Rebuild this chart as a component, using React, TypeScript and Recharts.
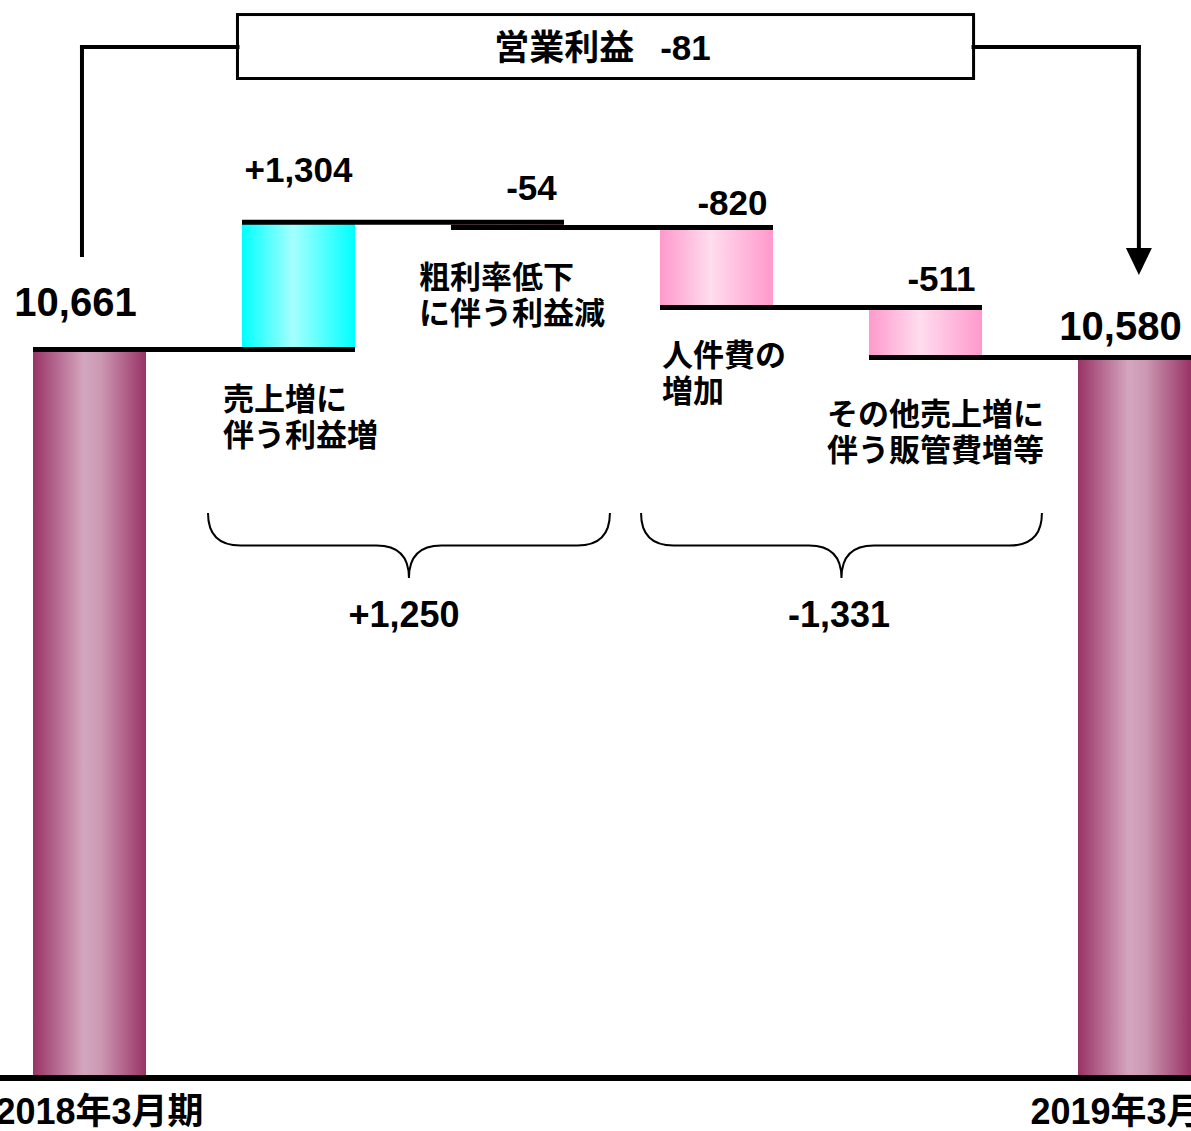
import {
  BarChart,
  Bar,
  XAxis,
  YAxis,
  Cell,
  LabelList,
  ReferenceLine,
  ReferenceArea,
  ReferenceDot,
} from "recharts";

const FONT = '"Liberation Sans", Arial, "Noto Sans CJK JP", sans-serif';

// data
const CATEGORIES = [
  "2018年3月期",
  "売上増に伴う利益増",
  "粗利率低下に伴う利益減",
  "人件費の増加",
  "その他売上増に伴う販管費増等",
  "2019年3月期",
];
const AXIS_LABELS = ["2018年3月期", "", "", "", "", "2019年3月期"];
const START_VALUE = 10661;
const DELTAS = [1304, -54, -820, -511];
const END_VALUE = 10580;
const VALUE_LABELS = ["10,661", "+1,304", "-54", "-820", "-511", "10,580"];
const DESCRIPTIONS = [
  ["売上増に", "伴う利益増"],
  ["粗利率低下", "に伴う利益減"],
  ["人件費の", "増加"],
  ["その他売上増に", "伴う販管費増等"],
];
const GROUP_LABELS = ["+1,250", "-1,331"];
const TITLE = "営業利益";
const TITLE_VALUE = "-81";

// scale (broken axis, bottom of bars is not zero)
const Y_MIN = 3200;
const Y_MAX = 14240;
const BAND_PX = 209;
const BAR_PX = 113;
const HALF = BAR_PX / 2 / BAND_PX;

// annotation placement, in data units of the hidden numeric x axis / y axis
const BOX = { x1: 0.708, x2: 4.23, y1: 14091, y2: 13436 };
const LINK_Y = 13759;
const LEFT_LINK = { x: -0.036, end: 11628 };
const RIGHT_LINK = { x: 5.021, end: 11424 };
const DESC_POS = [
  [0.639, 10041],
  [1.577, 11290],
  [2.739, 10491],
  [3.529, 9887],
];
const BRACES = [
  { x1: 0.567, x2: 2.49, labelX: 1.505 },
  { x1: 2.639, x2: 4.557, labelX: 3.586 },
];
const BRACE_TOP = 8986;
const BRACE_TIP = 8320;
const GROUP_LABEL_Y = 7818;

// label nudges in px: [dx, dy from bar top]
const LABEL_NUDGE = [
  [-14, -33],
  [0, -40],
  [24, -22],
  [16, -12],
  [16, -16],
  [-14, -17],
];
const TICK_DX = [10, 0, 0, 0, 0, 0];

const LEVELS = [START_VALUE];
DELTAS.forEach((d) => LEVELS.push(LEVELS[LEVELS.length - 1] + d));

const data = CATEGORIES.map((name, i) => {
  const last = CATEGORIES.length - 1;
  let range: number[];
  let fill: string;
  if (i === 0) {
    range = [Y_MIN, START_VALUE];
    fill = "url(#gTotal)";
  } else if (i === last) {
    range = [Y_MIN, END_VALUE];
    fill = "url(#gTotal)";
  } else {
    const a = LEVELS[i - 1];
    const b = LEVELS[i];
    range = [Math.min(a, b), Math.max(a, b)];
    fill = DELTAS[i - 1] > 0 ? "url(#gUp)" : "url(#gDown)";
  }
  return { name, pos: i, range, fill, label: VALUE_LABELS[i] };
});

const textStyle = { fontFamily: FONT, fontWeight: 700, fill: "#000" };

function ValueLabel(props: any) {
  const { x, y, width, index, value } = props;
  const [dx, dy] = LABEL_NUDGE[index];
  const big = index === 0 || index === CATEGORIES.length - 1;
  return (
    <text
      x={x + width / 2 + dx}
      y={y + dy}
      textAnchor="middle"
      fontSize={big ? 40 : 35}
      {...textStyle}
    >
      {value}
    </text>
  );
}

function AxisTick(props: any) {
  const { x, y, index } = props;
  return (
    <text x={x + TICK_DX[index]} y={y + 46} textAnchor="middle" fontSize={36} {...textStyle}>
      {AXIS_LABELS[index]}
    </text>
  );
}

function Brace(p: any) {
  const x1 = Math.min(p.x1, p.x2);
  const x2 = Math.max(p.x1, p.x2);
  const top = Math.min(p.y1, p.y2);
  const tip = Math.max(p.y1, p.y2);
  const mid = (x1 + x2) / 2;
  const ym = top + (tip - top) * 0.5;
  const r = (tip - top) * 0.5;
  const d = [
    `M${x1},${top}`,
    `Q${x1},${ym} ${x1 + r},${ym}`,
    `L${mid - r},${ym}`,
    `Q${mid},${ym} ${mid},${tip}`,
    `Q${mid},${ym} ${mid + r},${ym}`,
    `L${x2 - r},${ym}`,
    `Q${x2},${ym} ${x2},${top}`,
  ].join(" ");
  return <path d={d} fill="none" stroke="#000" strokeWidth={2} />;
}

function ArrowDown(p: any) {
  const x = p.x1;
  const top = Math.min(p.y1, p.y2);
  const tip = Math.max(p.y1, p.y2);
  const head = 27;
  return (
    <g>
      <line x1={x} y1={top} x2={x} y2={tip - head + 2} stroke="#000" strokeWidth={4} strokeLinecap="square" />
      <polygon points={`${x - 13},${tip - head} ${x + 13},${tip - head} ${x},${tip}`} fill="#000" />
    </g>
  );
}

function TitleBox(p: any) {
  const { x, y, width, height } = p;
  return (
    <g>
      <rect x={x} y={y} width={width} height={height} fill="#fff" stroke="#000" strokeWidth={3} />
      <text x={x + width / 2 - 3} y={y + height / 2 + 13} textAnchor="middle" fontSize={35} {...textStyle}>
        <tspan>{TITLE}</tspan>
        <tspan dx={26}>{TITLE_VALUE}</tspan>
      </text>
    </g>
  );
}

function descShape(lines: string[]) {
  return (p: any) => (
    <text x={p.cx} y={p.cy} fontSize={31} {...textStyle}>
      {lines.map((l, k) => (
        <tspan key={k} x={p.cx} dy={k === 0 ? 0 : 36}>
          {l}
        </tspan>
      ))}
    </text>
  );
}

function groupShape(label: string) {
  return (p: any) => (
    <text x={p.cx} y={p.cy} textAnchor="middle" fontSize={36} {...textStyle}>
      {label}
    </text>
  );
}

export default function App() {
  return (
    <div
      style={{
        position: "absolute",
        left: 0,
        top: 0,
        width: 1191,
        height: 1131,
        overflow: "hidden",
        background: "#fff",
      }}
    >
      <div style={{ marginLeft: -15 }}>
        <BarChart
          width={BAND_PX * CATEGORIES.length}
          height={1131}
          data={data}
          margin={{ top: 0, right: 0, left: 0, bottom: 3 }}
        >
          <defs>
            <linearGradient id="gTotal" x1="0" y1="0" x2="1" y2="0">
              <stop offset="0" stopColor="#993366" />
              <stop offset="0.45" stopColor="#D4A6BE" />
              <stop offset="0.6" stopColor="#CC98B2" />
              <stop offset="1" stopColor="#993366" />
            </linearGradient>
            <linearGradient id="gUp" x1="0" y1="0" x2="1" y2="0">
              <stop offset="0" stopColor="#00FFFF" />
              <stop offset="0.45" stopColor="#A6FFFF" />
              <stop offset="1" stopColor="#00FFFF" />
            </linearGradient>
            <linearGradient id="gDown" x1="0" y1="0" x2="1" y2="0">
              <stop offset="0" stopColor="#FF99CC" />
              <stop offset="0.45" stopColor="#FFDDEE" />
              <stop offset="1" stopColor="#FF99CC" />
            </linearGradient>
          </defs>
          <XAxis
            xAxisId="cat"
            dataKey="name"
            axisLine={false}
            tickLine={false}
            tickSize={0}
            tickMargin={0}
            height={50}
            interval={0}
            tick={<AxisTick />}
          />
          <XAxis
            xAxisId="num"
            dataKey="pos"
            type="number"
            domain={[-0.5, 5.5]}
            allowDataOverflow
            hide
          />
          <YAxis type="number" domain={[Y_MIN, Y_MAX]} allowDataOverflow hide />
          <Bar xAxisId="cat" dataKey="range" barSize={BAR_PX} isAnimationActive={false}>
            {data.map((d) => (
              <Cell key={d.name} fill={d.fill} />
            ))}
            <LabelList dataKey="label" content={<ValueLabel />} />
          </Bar>

          {LEVELS.map((lv, i) => (
            <ReferenceLine
              key={`lv-${i}`}
              xAxisId="num"
              ifOverflow="visible"
              segment={[
                { x: i - HALF, y: lv },
                { x: i + 1 + HALF, y: lv },
              ]}
              stroke="#000"
              strokeWidth={5}
            />
          ))}

          <ReferenceLine xAxisId="num" y={Y_MIN} ifOverflow="visible" stroke="#000" strokeWidth={6} />

          <ReferenceArea
            xAxisId="num"
            x1={BOX.x1}
            x2={BOX.x2}
            y1={BOX.y2}
            y2={BOX.y1}
            ifOverflow="visible"
            shape={<TitleBox />}
          />
          <ReferenceLine
            xAxisId="num"
            ifOverflow="visible"
            segment={[
              { x: BOX.x1, y: LINK_Y },
              { x: LEFT_LINK.x, y: LINK_Y },
            ]}
            stroke="#000"
            strokeWidth={4}
            strokeLinecap="square"
          />
          <ReferenceLine
            xAxisId="num"
            ifOverflow="visible"
            segment={[
              { x: LEFT_LINK.x, y: LINK_Y },
              { x: LEFT_LINK.x, y: LEFT_LINK.end },
            ]}
            stroke="#000"
            strokeWidth={4}
            strokeLinecap="square"
          />
          <ReferenceLine
            xAxisId="num"
            ifOverflow="visible"
            segment={[
              { x: BOX.x2, y: LINK_Y },
              { x: RIGHT_LINK.x, y: LINK_Y },
            ]}
            stroke="#000"
            strokeWidth={4}
            strokeLinecap="square"
          />
          <ReferenceLine
            xAxisId="num"
            ifOverflow="visible"
            segment={[
              { x: RIGHT_LINK.x, y: LINK_Y },
              { x: RIGHT_LINK.x, y: RIGHT_LINK.end },
            ]}
            shape={ArrowDown}
          />

          {DESCRIPTIONS.map((lines, i) => (
            <ReferenceDot
              key={`desc-${i}`}
              xAxisId="num"
              x={DESC_POS[i][0]}
              y={DESC_POS[i][1]}
              r={0}
              ifOverflow="visible"
              shape={descShape(lines)}
            />
          ))}

          {BRACES.map((b, i) => (
            <ReferenceLine
              key={`brace-${i}`}
              xAxisId="num"
              ifOverflow="visible"
              segment={[
                { x: b.x1, y: BRACE_TOP },
                { x: b.x2, y: BRACE_TIP },
              ]}
              shape={Brace}
            />
          ))}
          {BRACES.map((b, i) => (
            <ReferenceDot
              key={`group-${i}`}
              xAxisId="num"
              x={b.labelX}
              y={GROUP_LABEL_Y}
              r={0}
              ifOverflow="visible"
              shape={groupShape(GROUP_LABELS[i])}
            />
          ))}
        </BarChart>
      </div>
    </div>
  );
}
